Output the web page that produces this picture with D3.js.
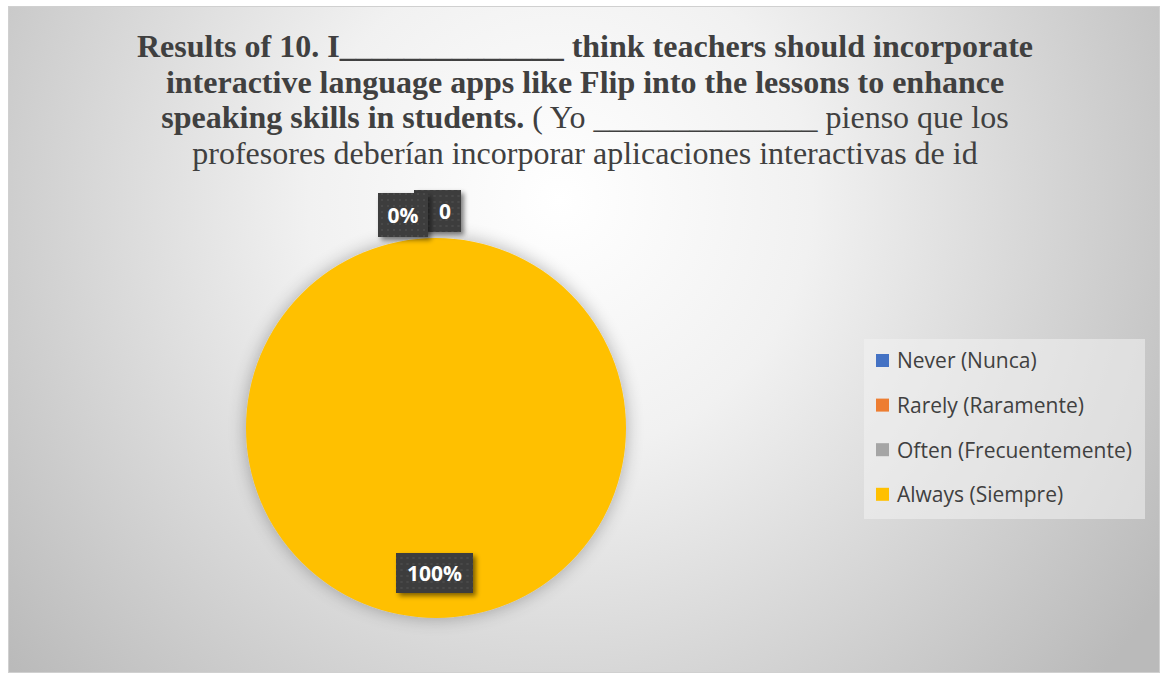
<!DOCTYPE html>
<html>
<head>
<meta charset="utf-8">
<script src="https://cdn.jsdelivr.net/npm/d3@7"></script>
<style>
  body { margin: 0; background: #fff; }
  svg { display: block; }
</style>
</head>
<body>
<div id="chart"></div>
<script>
// Chart data
const categories = ["Never (Nunca)", "Rarely (Raramente)", "Often (Frecuentemente)", "Always (Siempre)"]
const values = [0, 0, 0, 100]
const labels = ["0%", "0", "", "100%"]
const colors = ["#4472C4", "#ED7D31", "#A5A5A5", "#FFC000"]

const width = 1161
const height = 675

const svg = d3.select("#chart").append("svg").attr("width", width).attr("height", height)
const defs = svg.append("defs")

// Background gradient
const bg = defs.append("radialGradient").attr("id", "bg")
  .attr("gradientUnits", "userSpaceOnUse")
  .attr("cx", 560).attr("cy", 200).attr("r", 720)
bg.append("stop").attr("offset", "0%").attr("stop-color", "#ffffff")
bg.append("stop").attr("offset", "35%").attr("stop-color", "#f1f1f1")
bg.append("stop").attr("offset", "100%").attr("stop-color", "#bababa")

// Soft shadow for pie
const shadow = defs.append("filter").attr("id", "soft").attr("x", "-20%").attr("y", "-20%").attr("width", "140%").attr("height", "140%")
shadow.append("feGaussianBlur").attr("in", "SourceAlpha").attr("stdDeviation", 9).attr("result", "b")
shadow.append("feComponentTransfer").attr("in", "b").attr("result", "b2")
  .append("feFuncA").attr("type", "linear").attr("slope", 0.3)
const m = shadow.append("feMerge")
m.append("feMergeNode").attr("in", "b2")
m.append("feMergeNode").attr("in", "SourceGraphic")

// Label shadow
const lshadow = defs.append("filter").attr("id", "lsh").attr("x", "-20%").attr("y", "-20%").attr("width", "150%").attr("height", "160%")
lshadow.append("feGaussianBlur").attr("in", "SourceAlpha").attr("stdDeviation", 2.5).attr("result", "b")
lshadow.append("feOffset").attr("in", "b").attr("dx", 3).attr("dy", 3).attr("result", "o")
lshadow.append("feComponentTransfer").attr("in", "o").attr("result", "o2")
  .append("feFuncA").attr("type", "linear").attr("slope", 0.5)
const lm = lshadow.append("feMerge")
lm.append("feMergeNode").attr("in", "o2")
lm.append("feMergeNode").attr("in", "SourceGraphic")

// Dotted texture for label boxes
const pat = defs.append("pattern").attr("id", "dots").attr("patternUnits", "userSpaceOnUse")
  .attr("width", 6).attr("height", 6)
pat.append("rect").attr("width", 6).attr("height", 6).attr("fill", "#3d3d3d")
pat.append("circle").attr("cx", 3).attr("cy", 3).attr("r", 1).attr("fill", "#4e4e4e")

svg.append("rect").attr("x", 8.5).attr("y", 6.5).attr("width", 1151).attr("height", 666)
  .attr("fill", "url(#bg)").attr("stroke", "#d0d0d0")

// Title
const title = svg.append("text")
  .attr("text-anchor", "middle")
  .attr("font-family", "'Liberation Serif', 'Times New Roman', serif")
  .attr("font-size", 32)
  .attr("fill", "#404040")
const tl = [
  [{ t: "Results of 10. I______________ think teachers should incorporate", b: true }],
  [{ t: "interactive language apps like Flip into the lessons to enhance", b: true }],
  [{ t: "speaking skills in students.", b: true }, { t: " ( Yo ______________ pienso que los", b: false }],
  [{ t: "profesores deberían incorporar aplicaciones interactivas de id", b: false }],
]
tl.forEach((parts, i) => {
  const line = title.append("tspan").attr("x", 585).attr("y", 57 + i * 35.5)
  parts.forEach((p, j) => {
    const s = j === 0 ? line : title.append("tspan")
    s.text(p.t).attr("font-weight", p.b ? "bold" : "normal")
  })
})

// Pie
const cx = 436, cy = 428, r = 190
const pie = d3.pie().sort(null).value((d) => d)
const arcs = pie(values)
const arc = d3.arc().innerRadius(0).outerRadius(r)

const g = svg.append("g").attr("transform", `translate(${cx},${cy})`)
g.append("g").attr("filter", "url(#soft)")
  .selectAll("path")
  .data(arcs.filter((d) => d.value > 0))
  .enter()
  .append("path")
  .attr("d", arc)
  .attr("fill", (d) => colors[d.index])

// Data labels (box centre, box size, text offset)
const labelPos = [
  { x: -33, y: -213, w: 50, h: 44, dx: 0 },
  { x: 1.5, y: -217, w: 47, h: 42, dx: 7.5 },
  null,
  { x: -1.5, y: 145, w: 77, h: 40, dx: 0 },
]
const lg = svg.append("g").attr("transform", `translate(${cx},${cy})`)
const order = [1, 0, 2, 3]
order.forEach((i) => {
  if (!labels[i] || !labelPos[i]) return
  const p = labelPos[i]
  const item = lg.append("g").attr("transform", `translate(${p.x},${p.y})`)
  item.append("rect")
    .attr("x", -p.w / 2).attr("y", -p.h / 2).attr("width", p.w).attr("height", p.h)
    .attr("fill", "url(#dots)").attr("filter", "url(#lsh)")
  item.append("text")
    .attr("x", p.dx)
    .attr("text-anchor", "middle").attr("dy", "0.36em")
    .attr("font-family", "'Open Sans', sans-serif").attr("font-weight", "bold")
    .attr("font-size", 21).attr("fill", "#fff")
    .text(labels[i])
})

// Legend
const legend = svg.append("g")
legend.append("rect").attr("x", 864).attr("y", 339).attr("width", 281).attr("height", 180)
  .attr("fill", "#f2f2f2").attr("fill-opacity", 0.55)
const li = legend.selectAll("g.item").data(categories).enter().append("g")
  .attr("transform", (d, i) => `translate(876,${361 + i * 44.6})`)
li.append("rect").attr("x", 0).attr("y", -7).attr("width", 13).attr("height", 13)
  .attr("fill", (d, i) => colors[i])
li.append("text").attr("x", 21).attr("dy", "0.35em")
  .attr("font-family", "'Open Sans', sans-serif").attr("font-size", 21)
  .attr("fill", "#404040")
  .text((d) => d)
</script>
</body>
</html>
